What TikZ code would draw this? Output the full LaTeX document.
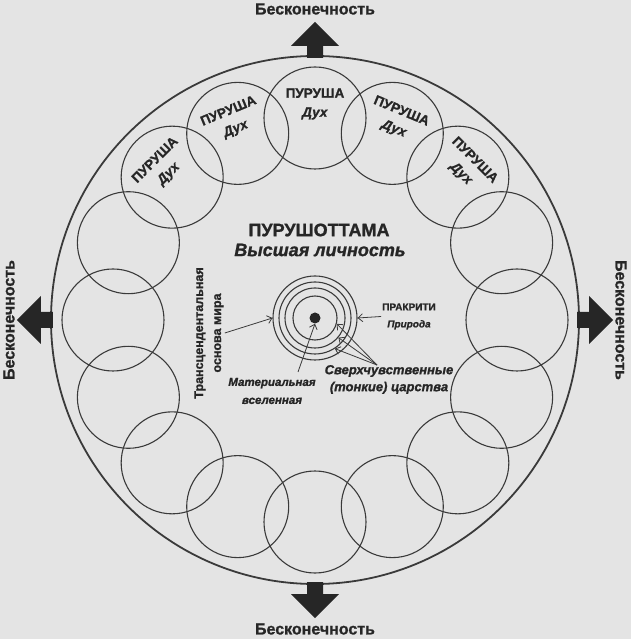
\documentclass[tikz,border=0pt]{standalone}
\usepackage{fontspec}
\setmainfont{Liberation Sans}[BoldFeatures={FakeBold=1.2},BoldItalicFeatures={FakeBold=1.2}]
\usetikzlibrary{arrows.meta,calc}
\definecolor{bg}{RGB}{228,228,228}
\definecolor{ink}{RGB}{38,38,38}
\definecolor{linec}{RGB}{58,58,58}
\tikzset{
  soul/.style={circle, draw=linec, line width=1.1pt, minimum size=102pt, inner sep=0pt},
  ring/.style={circle, draw=linec, line width=1.1pt, inner sep=0pt},
  inflabel/.style={font=\fontsize{16}{18}\selectfont\bfseries, text=ink, inner sep=0pt},
  soullabel/.style={font=\fontsize{13.5}{19}\selectfont\bfseries, text=ink, align=center, inner sep=0pt},
  ptr/.style={draw=linec, line width=0.8pt, -{Straight Barb[length=4.5pt,width=8pt]}},
  lbl/.style={text=ink, align=center, inner sep=1pt},
}
\begin{document}
\begin{tikzpicture}[x=1pt,y=1pt]
\fill[bg] (-315,-319) rectangle (316,320);
\useasboundingbox (-315,-319) rectangle (316,320);
% outer world circle
\node[circle, draw=linec, line width=1.8pt, minimum size=528pt, inner sep=0pt] (world) at (0,0) {};
% ring of souls
\foreach \k in {1,...,16} {
  \node[soul] (p\k) at ({90+22.5*(\k-1)}:202) {};
}
\foreach \a/\n in {90/a,112.5/b,135/c,67.5/d,45/e} {
  \node[soullabel, rotate=\a-90] (s\n) at (\a:216) {ПУРУША\\\textit{Дух}};
}
% infinity arrows
\foreach \a in {0,90,180,270} {
  \fill[ink, rotate=\a] (262,-8) -- (274,-8) -- (274,-24) -- (298,0) -- (274,24) -- (274,8) -- (262,8) -- cycle;
}
\node[inflabel] (inftop) at (0,311) {Бесконечность};
\node[inflabel] (infbot) at (0,-309) {Бесконечность};
\node[inflabel, rotate=90] (infleft) at (-306,0) {Бесконечность};
\node[inflabel, rotate=-90] (infright) at (306,0) {Бесконечность};
% centre
\node[font=\fontsize{18}{20}\selectfont\bfseries, text=ink, inner sep=0pt] (title) at (4,90) {ПУРУШОТТАМА};
\node[font=\fontsize{18}{20}\selectfont\bfseries\itshape, text=ink, inner sep=0pt] (subtitle) at (5,70) {Высшая личность};
\coordinate (c) at (0,2);
\node[ring, minimum size=84pt] (r4) at (c) {};
\node[ring, minimum size=72pt] (r3) at (c) {};
\node[ring, minimum size=60pt] (r2) at (c) {};
\node[ring, minimum size=44pt] (r1) at (c) {};
\node[circle, fill=ink, minimum size=11pt, inner sep=0pt] (dot) at (c) {};
% labels
\node[lbl, font=\fontsize{10}{17}\selectfont\bfseries] (prak) at (94,3.5) {ПРАКРИТИ\\\textit{Природа}};
\node[lbl, font=\fontsize{11.5}{18}\selectfont\bfseries\itshape] (mat) at (-43,-71) {Материальная\\вселенная};
\node[lbl, font=\fontsize{13}{17}\selectfont\bfseries\itshape] (sv) at (74,-59.5) {Сверхчувственные\\(тонкие) царства};
\node[lbl, font=\fontsize{12.5}{18}\selectfont\bfseries, rotate=90] (trans) at (-106,-13) {Трансцендентальная\\основа мира};
% pointers
\coordinate (matS) at (-17,-52);
\coordinate (svS) at (62,-45);
\draw[ptr] (trans.south) -- (r4.west);
\draw[ptr] (prak.west) -- (r4.east);
\draw[ptr] (matS) -- (dot.south);
\draw[ptr] (svS) -- (r1.-15);
\draw[ptr] (svS) -- (r2.-40);
\draw[ptr] (svS) -- (r3.-57);
\end{tikzpicture}
\end{document}
